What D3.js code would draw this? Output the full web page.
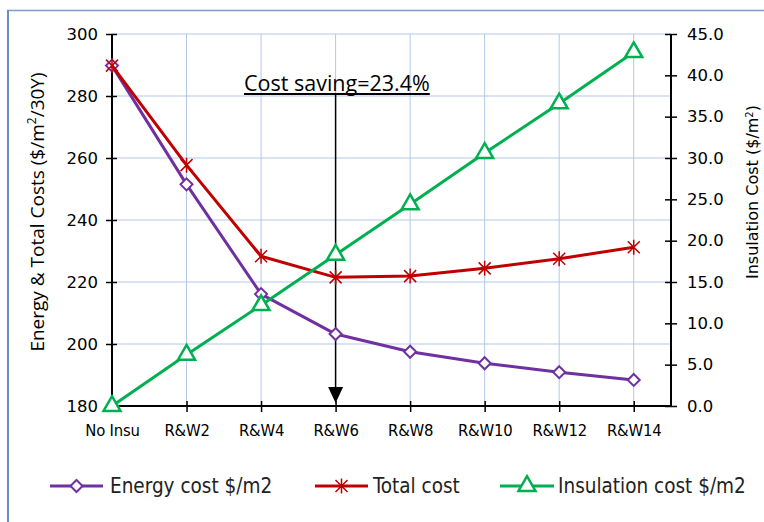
<!DOCTYPE html>
<html>
<head>
<meta charset="utf-8">
<script src="https://cdn.jsdelivr.net/npm/d3@7"></script>
<style>
  html, body { margin: 0; padding: 0; background: #ffffff; }
  svg { display: block; }
</style>
</head>
<body>
<svg id="chart" width="764" height="522"></svg>
<script>
// ---- data ----
const categories = ["No Insu", "R&W2", "R&W4", "R&W6", "R&W8", "R&W10", "R&W12", "R&W14"];
const energyCost = [289.8, 251.5, 216.1, 203.2, 197.5, 193.8, 190.9, 188.4];
const totalCost = [289.8, 257.7, 228.3, 221.5, 221.9, 224.4, 227.5, 231.2];
const insulationCost = [0.0, 6.2, 12.2, 18.3, 24.4, 30.6, 36.6, 42.8];
const leftTicks = [180, 200, 220, 240, 260, 280, 300];
const rightTicks = [0, 5, 10, 15, 20, 25, 30, 35, 40, 45];
const seriesNames = ["Energy cost $/m2", "Total cost", "Insulation cost $/m2"];
const annotationText = "Cost saving=23.4%";
const annotationIndex = 3;

// ---- layout ----
const L = 112, R = 671, T = 34, B = 406;
const svg = d3.select("#chart");
const colors = { energy: "#7030a0", total: "#c00000", insul: "#00b050" };
const gridColor = "#b4c7e7";

const x = d3.scaleLinear().domain([0, categories.length - 0.5]).range([L, R]);
const yL = d3.scaleLinear().domain([180, 300]).range([B, T]);
const yR = d3.scaleLinear().domain([0, 45]).range([B, T]);

// frame
svg.append("line").attr("x1", 7).attr("x2", 764).attr("y1", 10.5).attr("y2", 10.5)
  .attr("stroke", "#7f9bd0").attr("stroke-width", 1.5);
svg.append("line").attr("x1", 8).attr("x2", 8).attr("y1", 10).attr("y2", 522)
  .attr("stroke", "#6d8cc6").attr("stroke-width", 2);

// gridlines
const grid = svg.append("g");
grid.selectAll("line.h").data(leftTicks.filter(d => d > 180)).enter().append("line")
  .attr("x1", L).attr("x2", R).attr("y1", d => yL(d)).attr("y2", d => yL(d))
  .attr("stroke", gridColor).attr("stroke-width", 1);
grid.selectAll("line.v").data(d3.range(1, categories.length)).enter().append("line")
  .attr("x1", d => x(d)).attr("x2", d => x(d)).attr("y1", T).attr("y2", B)
  .attr("stroke", gridColor).attr("stroke-width", 1);

// axes
const tickFont = "'DejaVu Sans', sans-serif";
const axL = svg.append("g").attr("transform", `translate(${L},0)`)
  .call(d3.axisLeft(yL).tickValues(leftTicks).tickSize(6).tickPadding(8).tickFormat(d3.format("d")));
axL.selectAll(".tick line").attr("x1", 5);
const axR = svg.append("g").attr("transform", `translate(${R},0)`)
  .call(d3.axisRight(yR).tickValues(rightTicks).tickSize(6).tickPadding(10).tickFormat(d3.format(".1f")));
axR.selectAll(".tick line").attr("x1", -6);
const axB = svg.append("g").attr("transform", `translate(0,${B})`)
  .call(d3.axisBottom(x).tickValues(d3.range(categories.length)).tickSize(6).tickPadding(12)
    .tickFormat(i => categories[i]));
axB.selectAll(".tick line").attr("y1", -5);
[axL, axR, axB].forEach(a => {
  a.select(".domain").attr("stroke", "#000").attr("stroke-width", 2);
  a.selectAll(".tick line").attr("stroke", "#000").attr("stroke-width", 1.5);
  a.selectAll("text").attr("fill", "#000");
});
axL.select(".domain").attr("d", `M0,${B}V${T}`);
axR.select(".domain").attr("d", `M0,${B}V${T}`);
axB.select(".domain").attr("d", `M${L},0H${R}`);
axL.selectAll("text").attr("font-family", tickFont).attr("font-size", 16.5);
axR.selectAll("text").attr("font-family", tickFont).attr("font-size", 16.5);
axB.selectAll("text").attr("font-family", "'DejaVu Sans Condensed', 'DejaVu Sans', sans-serif")
  .attr("font-size", 16.5).attr("letter-spacing", -0.2);

// axis titles
const titleFont = "'Open Sans', 'Noto Sans', sans-serif";
svg.append("text").attr("transform", `translate(44,212) rotate(-90)`)
  .attr("text-anchor", "middle").attr("font-family", titleFont).attr("font-size", 19)
  .attr("fill", "#000")
  .html("Energy &amp; Total Costs ($/m<tspan baseline-shift='super' font-size='12'>2</tspan>/30Y)");
svg.append("text").attr("transform", `translate(758,192) rotate(-90)`)
  .attr("text-anchor", "middle").attr("font-family", "'DejaVu Sans', sans-serif").attr("font-size", 16)
  .attr("fill", "#000")
  .html("Insulation Cost ($/m<tspan baseline-shift='super' font-size='10'>2</tspan>)");

// annotation
const ax = x(annotationIndex);
const ann = svg.append("text").attr("x", 244).attr("y", 91)
  .attr("font-family", titleFont).attr("font-size", 21.5).attr("fill", "#000")
  .text(annotationText);
const bb = ann.node().getBBox();
svg.append("line").attr("x1", bb.x).attr("x2", bb.x + bb.width).attr("y1", 94).attr("y2", 94)
  .attr("stroke", "#000").attr("stroke-width", 2);
svg.append("line").attr("x1", ax).attr("x2", ax).attr("y1", 95).attr("y2", B - 18)
  .attr("stroke", "#000").attr("stroke-width", 1.5);
svg.append("path").attr("d", `M${ax - 7.5},${B - 19}L${ax + 7.5},${B - 19}L${ax},${B - 3}Z`)
  .attr("fill", "#000");

// markers
const diamond = "M0,-6L6,0L0,6L-6,0Z";
const star = "M-6,-6L6,6M-6,6L6,-6M0,-7.5L0,7.5";
const triangle = d3.symbol().type(d3.symbolTriangle).size(125)();

function drawSeries(values, yScale, color, markerPath, fill, mw) {
  const g = svg.append("g");
  g.append("path").datum(values)
    .attr("d", d3.line().x((d, i) => x(i)).y(d => yScale(d)))
    .attr("fill", "none").attr("stroke", color).attr("stroke-width", 3)
    .attr("stroke-linejoin", "round");
  g.selectAll("path.m").data(values).enter().append("path")
    .attr("d", markerPath)
    .attr("transform", (d, i) => `translate(${x(i)},${yScale(d)})`)
    .attr("fill", fill).attr("stroke", color).attr("stroke-width", mw);
}
drawSeries(energyCost, yL, colors.energy, diamond, "#fff", 2);
drawSeries(totalCost, yL, colors.total, star, "none", 1.5);
drawSeries(insulationCost, yR, colors.insul, triangle, "#fff", 2.5);

// legend
const legY = 486;
const legendItems = [
  { name: seriesNames[0], color: colors.energy, m: diamond, fill: "#fff", mw: 2, x0: 50, x1: 103, tx: 110 },
  { name: seriesNames[1], color: colors.total, m: star, fill: "none", mw: 1.5, x0: 315, x1: 368, tx: 373 },
  { name: seriesNames[2], color: colors.insul, m: triangle, fill: "#fff", mw: 2.5, x0: 500, x1: 554, tx: 558 }
];
const lg = svg.append("g");
legendItems.forEach(it => {
  lg.append("line").attr("x1", it.x0).attr("x2", it.x1).attr("y1", legY).attr("y2", legY)
    .attr("stroke", it.color).attr("stroke-width", 3);
  lg.append("path").attr("d", it.m).attr("transform", `translate(${(it.x0 + it.x1) / 2},${legY})`)
    .attr("fill", it.fill).attr("stroke", it.color).attr("stroke-width", it.mw);
  lg.append("text").attr("x", it.tx).attr("y", legY + 7)
    .attr("font-family", "'DejaVu Sans Condensed', 'DejaVu Sans', sans-serif")
    .attr("font-size", 20.5).attr("fill", "#222").text(it.name);
});
</script>
</body>
</html>
